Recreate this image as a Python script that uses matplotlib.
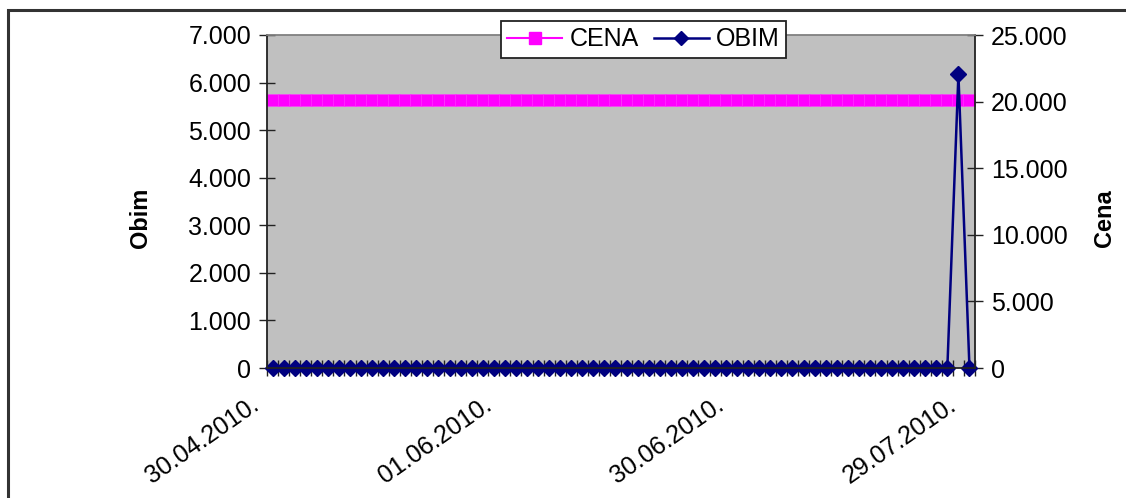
import matplotlib
matplotlib.use('Agg')
import matplotlib.pyplot as plt
import matplotlib.transforms as mtransforms
from matplotlib.lines import Line2D
from matplotlib.patches import Rectangle
from matplotlib.ticker import FuncFormatter, MultipleLocator
import pandas as pd

plt.rcParams['font.family'] = ['Liberation Sans', 'DejaVu Sans']

# trading days 30.04.2010 - 29.07.2010 (03.05. holiday)
days = pd.bdate_range('2010-04-30', '2010-07-29')
days = days[days != pd.Timestamp('2010-05-03')]
dates = [d.strftime('%d.%m.%Y.') for d in days]
label_step = 21

cena = [
    20100, 20100, 20100, 20100, 20100, 20100, 20100, 20100,
    20100, 20100, 20100, 20100, 20100, 20100, 20100, 20100,
    20100, 20100, 20100, 20100, 20100, 20100, 20100, 20100,
    20100, 20100, 20100, 20100, 20100, 20100, 20100, 20100,
    20100, 20100, 20100, 20100, 20100, 20100, 20100, 20100,
    20100, 20100, 20100, 20100, 20100, 20100, 20100, 20100,
    20100, 20100, 20100, 20100, 20100, 20100, 20100, 20100,
    20100, 20100, 20100, 20100, 20100, 20100, 20100, 20100,
]
obim = [
    0, 0, 0, 0, 0, 0, 0, 0, 0, 0, 0, 0, 0, 0, 0, 0,
    0, 0, 0, 0, 0, 0, 0, 0, 0, 0, 0, 0, 0, 0, 0, 0,
    0, 0, 0, 0, 0, 0, 0, 0, 0, 0, 0, 0, 0, 0, 0, 0,
    0, 0, 0, 0, 0, 0, 0, 0, 0, 0, 0, 0, 0, 0, 6170, 0,
]

PINK = '#FF00FF'
NAVY = '#000080'


def thousands(v, pos):
    return f'{int(round(v)):,}'.replace(',', '.')


fig = plt.figure(figsize=(11.26, 4.98), dpi=100)
fig.patches.append(Rectangle((8 / 1126, -0.1), 1.2, 1 - 10 / 498 + 0.1,
                             transform=fig.transFigure, fill=False,
                             edgecolor='#333333', linewidth=2.2))

ax2 = fig.add_axes([267 / 1126, 1 - 368 / 498, 708 / 1126, 333 / 498])
ax = ax2.twinx()
ax.yaxis.tick_left()
ax.yaxis.set_label_position('left')
ax2.yaxis.tick_right()
ax2.yaxis.set_label_position('right')
ax.set_zorder(ax2.get_zorder() + 1)
ax.patch.set_visible(False)
ax2.set_facecolor('#C0C0C0')

x = list(range(len(dates)))

# CENA on right axis
ax2.plot(x, cena, color=PINK, lw=1.5, marker='s', ms=9,
         mec='#FF40FF', mfc=PINK, mew=0.4)
ax2.set_ylim(0, 25000)
ax2.yaxis.set_major_locator(MultipleLocator(5000))
ax2.yaxis.set_major_formatter(FuncFormatter(thousands))

# OBIM on left axis
ax.plot(x, obim, color=NAVY, lw=1.8, marker='D', ms=8.3,
        mec=NAVY, mfc=NAVY, clip_on=False)
ax.set_ylim(0, 7000)
ax.yaxis.set_major_locator(MultipleLocator(1000))
ax.yaxis.set_major_formatter(FuncFormatter(thousands))

# category ticks between points, drawn on the front axes
ax.xaxis.set_visible(True)
ax.set_xlim(-0.5, len(dates) - 0.5)
ax.set_xticks([i - 0.5 for i in range(len(dates) + 1)])
ax.set_xticklabels([])
ax.tick_params(axis='x', direction='inout', length=11, width=1, color='#222222')
ax2.tick_params(axis='x', bottom=False, labelbottom=False)

ax.tick_params(axis='y', direction='inout', length=11, width=1,
               labelsize=18, pad=6, color='#222222')
ax2.tick_params(axis='y', direction='inout', length=11, width=1,
                labelsize=18, pad=6, color='#222222')

for s in ax2.spines.values():
    s.set_visible(False)
ax.spines['left'].set_color('#222222')
ax.spines['bottom'].set_color('#222222')
ax.spines['right'].set_color('#222222')
ax.spines['top'].set_color('#808080')
for s in ax.spines.values():
    s.set_linewidth(1.3)

ax.set_ylabel('Obim', fontsize=17, fontweight='bold')
ax.yaxis.set_label_coords(-0.162, 0.45)
ax2.set_ylabel('Cena', fontsize=17, fontweight='bold')
ax2.yaxis.set_label_coords(1.167, 0.45)

# rotated date labels, every 21st trading day
offset = mtransforms.ScaledTranslation(-12 / 100, -40 / 100, fig.dpi_scale_trans)
trans = mtransforms.blended_transform_factory(ax.transData, ax.transAxes) + offset
for i in range(0, len(dates), label_step):
    ax.text(i, 0, dates[i], transform=trans, rotation=35, fontsize=18,
            ha='right', va='baseline', rotation_mode='anchor', clip_on=False)

handles = [
    Line2D([], [], color=PINK, lw=1.5, marker='s', ms=8.5, mec=PINK, mfc=PINK),
    Line2D([], [], color=NAVY, lw=1.8, marker='D', ms=7, mec=NAVY, mfc=NAVY),
]
leg = fig.legend(handles, ['CENA', 'OBIM'], loc='center',
                 bbox_to_anchor=(643.5 / 1126, 1 - 39.5 / 498), ncol=2,
                 fontsize=18, frameon=True, fancybox=False, framealpha=1,
                 edgecolor='#222222', handlelength=2.2, handletextpad=0.3,
                 columnspacing=0.6, borderpad=0.25, borderaxespad=0)
leg.get_frame().set_linewidth(1.3)
leg.set_zorder(10)

fig.savefig('out.png', dpi=100)
